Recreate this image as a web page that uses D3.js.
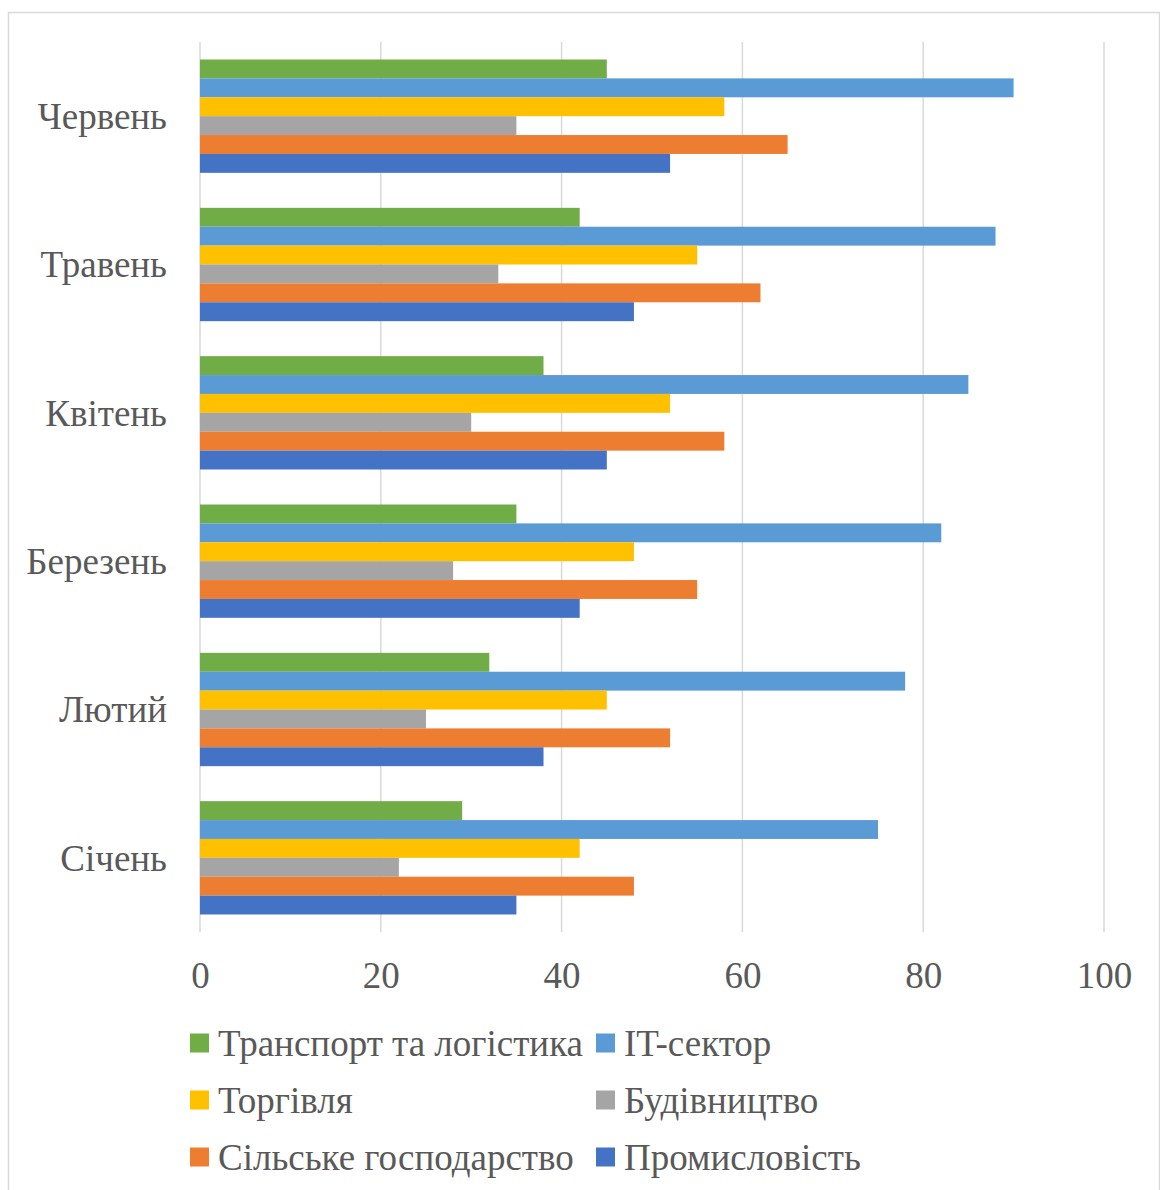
<!DOCTYPE html>
<html>
<head>
<meta charset="utf-8">
<title>Галузі по місяцях</title>
<script src="https://d3js.org/d3.v7.min.js"></script>
<style>
  body { margin: 0; background: #fff; }
  svg text { font-family: "Liberation Serif", "Times New Roman", serif; fill: #595959; }
</style>
</head>
<body>
<div id="chart"></div>
<script>
// місяці знизу вгору, як у Excel
const months = ["Січень", "Лютий", "Березень", "Квітень", "Травень", "Червень"];
// серії в порядку зверху вниз усередині групи
const seriesNames = ["Транспорт та логістика", "IT-сектор", "Торгівля", "Будівництво", "Сільське господарство", "Промисловість"];
const seriesColors = ["#70AD47", "#5B9BD5", "#FFC000", "#A5A5A5", "#ED7D31", "#4472C4"];

const transport    = [29, 32, 35, 38, 42, 45];
const itSector     = [75, 78, 82, 85, 88, 90];
const trade        = [42, 45, 48, 52, 55, 58];
const construction = [22, 25, 28, 30, 33, 35];
const agriculture  = [48, 52, 55, 58, 62, 65];
const industry     = [35, 38, 42, 45, 48, 52];
const seriesValues = [transport, itSector, trade, construction, agriculture, industry];

const xTicks = [0, 20, 40, 60, 80, 100];

const W = 1160, H = 1190;
const plot = { left: 200, right: 1104, top: 42, bottom: 932 };
const fontSize = "37px";

const svg = d3.select("#chart").append("svg")
    .attr("width", W).attr("height", H);

// рамка діаграми
svg.append("rect")
    .attr("x", 8.5).attr("y", 12.5)
    .attr("width", 1151).attr("height", 1190)
    .attr("fill", "#fff").attr("stroke", "#d9d9d9").attr("stroke-width", 1.5);

const x = d3.scaleLinear().domain([0, 100]).range([plot.left, plot.right]);

// верхній місяць зверху
const y = d3.scaleBand().domain(months.slice().reverse())
    .range([plot.top, plot.bottom])
    .paddingInner(0.236).paddingOuter(0.118);

const ySub = d3.scaleBand().domain(seriesNames).range([0, y.bandwidth()]);

// сітка
svg.append("g").selectAll("line").data(xTicks).enter().append("line")
    .attr("x1", d => x(d)).attr("x2", d => x(d))
    .attr("y1", plot.top).attr("y2", plot.bottom)
    .attr("stroke", "#d9d9d9").attr("stroke-width", 1.5);

// бари
const groups = svg.append("g").selectAll("g").data(months).enter().append("g")
    .attr("transform", m => "translate(0," + y(m) + ")");

groups.selectAll("rect")
    .data((m) => {
        const i = months.indexOf(m);
        return seriesNames.map((s, k) => ({ s: s, v: seriesValues[k][i], c: seriesColors[k] }));
    })
    .enter().append("rect")
    .attr("x", x(0))
    .attr("y", d => ySub(d.s))
    .attr("width", d => x(d.v) - x(0))
    .attr("height", ySub.bandwidth())
    .attr("fill", d => d.c);

// підписи осі X
const xAxis = d3.axisBottom(x).tickValues(xTicks).tickSize(0).tickPadding(0);
const gx = svg.append("g").attr("transform", "translate(0," + (plot.bottom + 43) + ")").call(xAxis);
gx.select(".domain").remove();
gx.selectAll("text")
    .attr("dy", "0.35em")
    .style("font-size", fontSize)
    .style("font-family", "Liberation Serif, serif")
    .attr("fill", "#595959");

// підписи осі Y
const yAxis = d3.axisLeft(y).tickSize(0).tickPadding(0);
const gy = svg.append("g").attr("transform", "translate(" + (plot.left - 33) + ",1)").call(yAxis);
gy.select(".domain").remove();
gy.selectAll("text")
    .style("font-size", fontSize)
    .style("font-family", "Liberation Serif, serif")
    .attr("fill", "#595959");

// легенда
const legendPos = [
    { x: 190, y: 1043 }, { x: 596, y: 1043 },
    { x: 190, y: 1100 }, { x: 596, y: 1100 },
    { x: 190, y: 1157 }, { x: 596, y: 1157 }
];
const legend = svg.append("g").selectAll("g").data(seriesNames).enter().append("g")
    .attr("transform", (d, i) => "translate(" + legendPos[i].x + "," + legendPos[i].y + ")");
legend.append("rect")
    .attr("x", 0).attr("y", -9.5).attr("width", 19).attr("height", 19)
    .attr("fill", (d, i) => seriesColors[i]);
legend.append("text")
    .attr("x", 28).attr("dy", "0.35em")
    .style("font-size", fontSize)
    .text(d => d);
</script>
</body>
</html>
